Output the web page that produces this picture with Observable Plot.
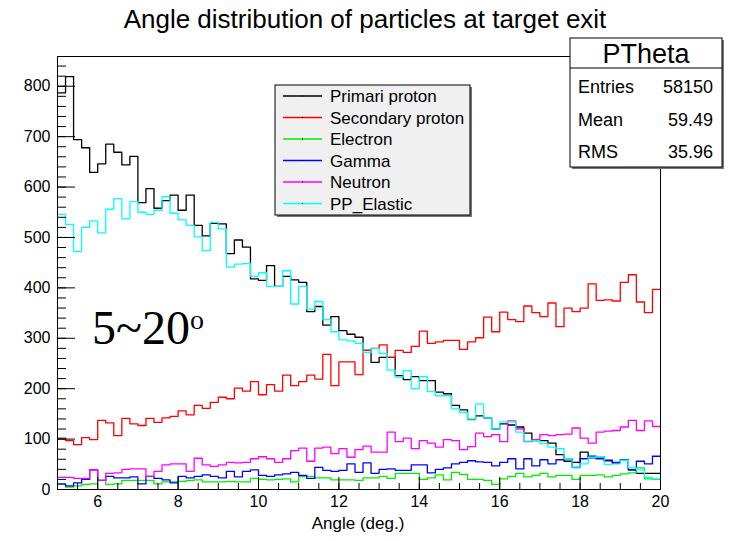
<!DOCTYPE html>
<html>
<head>
<meta charset="utf-8">
<script src="https://cdn.jsdelivr.net/npm/d3@7"></script>
<script src="https://cdn.jsdelivr.net/npm/@observablehq/plot@0.6"></script>
<style>
  body { margin: 0; background: #fff; }
  svg { display: block; }
</style>
</head>
<body>
<div id="chart"></div>
<script>
// Angular distribution histograms (0.2 deg bins from 5 to 20 deg)
const angleMin = 5;
const binWidth = 0.2;

const seriesNames = ["Primari proton", "Secondary proton", "Electron", "Gamma", "Neutron", "PP_Elastic"];

const primariProton = [787,819,694,678,629,646,685,669,644,661,
  569,597,558,573,584,554,584,524,503,528,
  527,468,495,481,418,415,444,403,423,416,
  411,353,363,326,343,315,308,302,276,252,
  262,262,226,218,224,216,216,193,190,167,
  158,139,146,142,120,130,128,124,112,97,
  97,92,69,56,54,74,63,65,58,52,
  58,39,32,32,32];

const secondaryProton = [102,97,89,103,99,137,132,107,141,130,
  127,141,133,142,145,156,148,167,161,173,
  183,180,201,195,214,188,208,195,227,206,
  214,227,219,268,206,253,253,228,276,280,
  287,262,276,272,284,314,290,293,296,296,
  278,293,301,342,313,352,337,333,364,351,
  343,370,323,360,353,360,408,375,376,374,
  411,426,372,351,397];

const electron = [10,5,7,10,11,18,10,11,18,18,
  18,18,11,15,15,16,18,19,15,15,
  15,16,15,15,22,20,19,20,21,15,
  26,26,23,23,19,19,19,18,23,23,
  26,22,32,32,32,20,23,29,19,34,
  30,20,20,18,10,21,26,32,25,28,
  32,25,28,28,20,28,28,29,25,28,
  31,33,43,21,20];

const gamma = [11,7,13,20,39,18,26,23,23,25,
  11,26,22,19,13,26,23,26,29,26,
  23,36,25,36,39,28,26,29,31,34,
  28,22,44,38,36,38,51,34,53,32,
  40,41,38,38,49,49,33,40,43,51,
  54,57,55,54,47,54,61,41,61,47,
  59,51,59,61,44,61,66,61,57,54,
  59,39,56,51,66];

const neutron = [24,24,22,22,39,18,32,33,40,41,
  41,26,36,49,51,51,36,62,49,46,
  49,54,53,54,61,65,61,54,61,77,
  82,56,82,84,71,81,64,79,86,74,
  74,114,95,102,81,97,92,84,99,97,
  79,85,112,105,109,95,136,120,95,99,
  109,107,109,110,122,102,92,114,116,117,
  124,137,117,136,125];

const ppElastic = [546,526,472,520,533,509,556,577,537,571,
  550,546,554,581,548,535,524,501,474,530,
  517,441,447,448,423,430,403,403,434,368,
  403,358,373,337,313,297,295,290,272,280,
  270,237,223,236,200,224,194,186,186,160,
  153,138,170,142,120,134,134,114,96,97,
  91,84,81,61,43,51,64,65,50,51,
  58,43,39,24,21];

const seriesValues = [primariProton, secondaryProton, electron, gamma, neutron, ppElastic];
const seriesColors = ["#000000", "#ff0000", "#00ee00", "#0000ff", "#ff00ff", "#00ffff"];

const xMajorTicks = [6, 8, 10, 12, 14, 16, 18, 20];
const yMajorTicks = [0, 100, 200, 300, 400, 500, 600, 700, 800];
const xMinorTicks = d3.range(5, 20.001, 0.5);
const yMinorTicks = d3.range(0, 859, 20);

const chartTitle = "Angle distribution of particles at target exit";
const xTitle = "Angle (deg.)";
const statsName = "PTheta";
const statLabels = ["Entries", "Mean", "RMS"];
const statValues = ["58150", "59.49", "35.96"];

// layout
const W = 730, H = 541;
const mL = 57, mR = 70, mT = 56, mB = 52;
const xDomain = [5, 20], yDomain = [0, 859];
const kx = (W - mL - mR) / (xDomain[1] - xDomain[0]);
const ky = (H - mT - mB) / (yDomain[1] - yDomain[0]);

// step outline: one point per bin's lower edge, plus the closing upper edge
function histRows(values) {
  const rows = values.map((v, i) => ({x: angleMin + i * binWidth, y: v}));
  rows.push({x: angleMin + values.length * binWidth, y: values[values.length - 1]});
  return rows;
}

const font = "'Liberation Sans', Arial, Helvetica, sans-serif";

const chart = Plot.plot({
  width: W,
  height: H,
  marginLeft: mL,
  marginRight: mR,
  marginTop: mT,
  marginBottom: mB,
  style: {fontFamily: font, background: "#fff", color: "#000"},
  x: {domain: xDomain},
  y: {domain: yDomain},
  marks: [
    ...seriesValues.map((vals, k) =>
      Plot.line(histRows(vals), {x: "x", y: "y", curve: "step-after", stroke: seriesColors[k], strokeWidth: 1.3})
    ),
    Plot.ruleX(xMinorTicks, {x: d => d, y1: 0, y2: 6 / ky, stroke: "#000"}),
    Plot.ruleX(xMajorTicks, {x: d => d, y1: 0, y2: 12 / ky, stroke: "#000"}),
    Plot.ruleY(yMinorTicks, {y: d => d, x1: 5, x2: 5 + 9 / kx, stroke: "#000"}),
    Plot.ruleY(yMajorTicks, {y: d => d, x1: 5, x2: 5 + 18 / kx, stroke: "#000"}),
    Plot.axisX({ticks: xMajorTicks, tickSize: 0, tickPadding: 6, fontSize: 16, label: null}),
    Plot.axisY({ticks: yMajorTicks, tickSize: 0, tickPadding: 7, fontSize: 16, label: null}),
    Plot.frame({stroke: "#000", strokeWidth: 1})
  ]
});

document.getElementById("chart").appendChild(chart);
const svg = d3.select(chart);

// title
svg.append("text")
  .attr("x", 365).attr("y", 28)
  .attr("text-anchor", "middle")
  .style("font-family", font).style("font-size", "26px")
  .text(chartTitle);

// x axis title
svg.append("text")
  .attr("x", 358).attr("y", 529)
  .attr("text-anchor", "middle")
  .style("font-family", font).style("font-size", "17px")
  .text(xTitle);

// angular range annotation
const note = svg.append("text")
  .attr("x", 92).attr("y", 344)
  .attr("text-anchor", "start")
  .style("font-family", "'Liberation Serif', 'Times New Roman', serif")
  .style("font-size", "48px");
note.append("tspan").text("5~20");
note.append("tspan").attr("dy", -15).style("font-size", "28px").text("o");

// legend
const lg = svg.append("g");
lg.append("rect").attr("x", 277).attr("y", 87).attr("width", 195).attr("height", 130).attr("fill", "#777");
lg.append("rect").attr("x", 275).attr("y", 85).attr("width", 195).attr("height", 130)
  .attr("fill", "#f0f0f0").attr("stroke", "#000").attr("stroke-width", 1);
seriesNames.forEach((name, k) => {
  const y = 96 + k * 21.5;
  lg.append("line").attr("x1", 283).attr("x2", 322).attr("y1", y).attr("y2", y)
    .attr("stroke", seriesColors[k]).attr("stroke-width", 1.3);
  lg.append("rect").attr("x", 302).attr("y", y - 0.5).attr("width", 1).attr("height", 1).attr("fill", "#000");
  lg.append("text").attr("x", 330).attr("y", y + 6).attr("text-anchor", "start")
    .style("font-family", font).style("font-size", "17px").text(name);
});

// statistics box
const st = svg.append("g");
st.append("rect").attr("x", 572).attr("y", 40).attr("width", 152).attr("height", 129).attr("fill", "#777");
st.append("rect").attr("x", 570).attr("y", 38).attr("width", 152).attr("height", 129)
  .attr("fill", "#fff").attr("stroke", "#000").attr("stroke-width", 1);
st.append("line").attr("x1", 570).attr("x2", 722).attr("y1", 68).attr("y2", 68).attr("stroke", "#000");
st.append("text").attr("x", 646).attr("y", 63).attr("text-anchor", "middle")
  .style("font-family", font).style("font-size", "27px").text(statsName);
statLabels.forEach((lab, i) => {
  const y = 93 + i * 32.5;
  st.append("text").attr("x", 578).attr("y", y).attr("text-anchor", "start")
    .style("font-family", font).style("font-size", "18px").text(lab);
  st.append("text").attr("x", 713).attr("y", y).attr("text-anchor", "end")
    .style("font-family", font).style("font-size", "18px").text(statValues[i]);
});
</script>
</body>
</html>
